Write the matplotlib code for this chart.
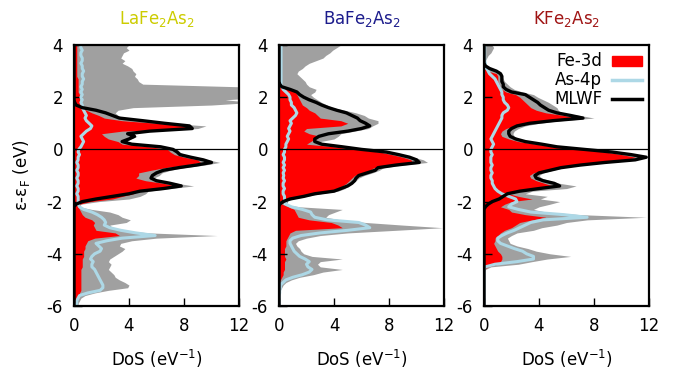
import numpy as np
import matplotlib.pyplot as plt
from matplotlib.patches import Patch
from matplotlib.lines import Line2D

plt.rcParams['font.family'] = ['DejaVu Sans']
plt.rcParams['axes.unicode_minus'] = False

# energy grid (eV), -6 .. 4 in 0.1 eV steps
energy = np.round(np.arange(-60, 41) * 0.1, 1)

compounds = ["LaFe$_2$As$_2$", "BaFe$_2$As$_2$", "KFe$_2$As$_2$"]
title_colors = ["#cccc00", "#1c1c8c", "#a01515"]

# ---- LaFe2As2 ----
la_total = [0.3, 0.3, 0.4, 0.5, 0.8, 1.5, 2.5, 3.9, 4.0, 3.7,
            3.3, 3.0, 2.9, 2.7, 2.5, 2.6, 2.7, 2.5, 2.6, 2.9,
            3.2, 3.5, 3.7, 3.3, 3.4, 4.2, 6.0, 10.4, 5.5, 3.4,
            2.8, 2.6, 3.8, 4.1, 3.5, 3.2, 2.6, 1.3, 0.4, 0.5,
            1.8, 4.0, 4.8, 5.2, 5.4, 7.0, 8.7, 7.5, 6.3, 5.8,
            6.2, 6.4, 7.0, 8.0, 9.5, 10.6, 9.8, 8.8, 8.0, 7.7,
            7.5, 6.5, 4.5, 3.8, 4.1, 4.6, 4.0, 5.8, 9.0, 9.6,
            7.0, 5.3, 3.6, 3.2, 3.0, 3.2, 4.3, 10.0, 13.0, 11.0,
            14.0, 14.0, 14.0, 14.0, 12.0, 5.0, 4.7, 4.6, 4.4, 4.5,
            4.3, 4.2, 3.9, 3.5, 3.7, 3.4, 3.5, 3.6, 4.0, 3.8,
            4.0]
la_fe3d = [0.0, 0.1, 0.2, 0.3, 0.4, 0.4, 0.5, 0.5, 0.5, 0.5,
           0.5, 0.5, 0.5, 0.5, 0.5, 0.6, 0.6, 0.6, 0.6, 0.7,
           0.7, 0.7, 0.8, 0.8, 0.9, 1.0, 1.5, 3.3, 3.0, 1.6,
           1.5, 1.4, 1.5, 1.3, 0.8, 0.6, 0.5, 0.4, 0.3, 0.4,
           1.2, 2.8, 3.5, 4.3, 4.6, 6.0, 7.4, 6.5, 5.2, 4.5,
           4.7, 4.7, 5.6, 6.6, 8.0, 9.2, 9.0, 8.0, 7.3, 7.0,
           6.8, 5.5, 3.5, 3.2, 2.5, 2.2, 2.0, 3.5, 8.0, 8.3,
           6.0, 3.5, 2.2, 1.8, 1.3, 0.9, 0.6, 0.5, 0.4, 0.4,
           0.4, 0.4, 0.3, 0.3, 0.3, 0.3, 0.3, 0.3, 0.2, 0.2,
           0.2, 0.2, 0.2, 0.2, 0.2, 0.2, 0.2, 0.2, 0.2, 0.2,
           0.2]
la_as4p = [0.1, 0.2, 0.2, 0.3, 0.4, 1.0, 1.9, 2.1, 2.1, 2.0,
           1.9, 1.8, 1.7, 1.6, 1.5, 1.3, 1.3, 1.4, 1.2, 1.3,
           1.5, 1.9, 2.0, 1.8, 1.6, 2.4, 3.5, 5.9, 4.5, 3.4,
           2.6, 2.2, 2.3, 2.2, 2.0, 1.7, 1.3, 0.7, 0.4, 0.3,
           0.3, 0.3, 0.3, 0.2, 0.3, 0.3, 0.2, 0.3, 0.3, 0.2,
           0.3, 0.3, 0.2, 0.3, 0.3, 0.2, 0.3, 0.3, 0.4, 0.3,
           0.35, 0.5, 0.6, 0.7, 0.6, 0.5, 0.7, 0.9, 1.2, 1.3,
           1.1, 0.9, 0.8, 0.9, 0.8, 0.7, 0.6, 0.6, 0.5, 0.6,
           0.5, 0.6, 0.5, 0.6, 0.5, 0.6, 0.6, 0.7, 0.6, 0.6,
           0.7, 0.6, 0.6, 0.5, 0.6, 0.6, 0.5, 0.5, 0.6, 0.5,
           0.5]
la_mlwf = [0, 0, 0, 0, 0, 0, 0, 0, 0, 0,
           0, 0, 0, 0, 0, 0, 0, 0, 0, 0,
           0, 0, 0, 0, 0, 0, 0, 0, 0, 0,
           0, 0, 0, 0, 0, 0, 0, 0, 0, 0.15,
           0.6, 1.6, 2.8, 4.0, 4.8, 6.5, 7.8, 7.0, 6.0, 5.6,
           5.7, 6.0, 6.5, 7.6, 8.9, 10.0, 9.4, 8.5, 7.7, 7.5,
           7.2, 6.3, 4.2, 3.5, 4.0, 4.4, 3.9, 5.5, 8.6, 8.4,
           6.6, 5.0, 3.3, 2.8, 2.3, 1.6, 0.6, 0.15, 0.05, 0,
           0, 0, 0, 0, 0, 0, 0, 0, 0, 0,
           0, 0, 0, 0, 0, 0, 0, 0, 0, 0,
           0]

# ---- BaFe2As2 ----
ba_total = [0, 0, 0, 0, 0, 0.05, 0.1, 0.2, 0.3, 0.5,
            0.9, 1.5, 2.5, 3.2, 4.6, 3.0, 2.8, 3.0, 4.6, 2.4,
            1.8, 1.6, 1.5, 1.3, 1.2, 1.4, 2.0, 3.0, 5.0, 8.5,
            11.9, 9.0, 6.3, 4.5, 3.4, 3.6, 4.1, 4.6, 1.5, 0.3,
            0.4, 1.0, 2.0, 3.0, 4.3, 4.8, 5.0, 5.3, 5.6, 5.8,
            6.2, 6.8, 7.3, 7.6, 9.0, 10.8, 10.5, 9.8, 9.0, 8.0,
            6.2, 4.8, 3.3, 3.0, 4.0, 4.3, 4.5, 5.5, 6.5, 6.8,
            7.2, 7.2, 6.5, 6.2, 5.6, 4.8, 3.9, 3.5, 3.1, 2.8,
            2.5, 2.3, 2.6, 2.7, 2.2, 2.0, 1.9, 1.7, 1.5, 1.3,
            1.4, 1.7, 1.9, 2.2, 2.7, 3.2, 3.4, 3.7, 3.9, 4.2,
            4.5]
ba_fe3d = [0, 0, 0, 0, 0, 0, 0, 0, 0, 0,
           0.1, 0.2, 0.3, 0.3, 0.4, 0.4, 0.4, 0.4, 0.5, 0.4,
           0.4, 0.4, 0.4, 0.5, 0.5, 0.5, 0.6, 0.7, 0.8, 1.2,
           4.6, 4.3, 3.8, 2.2, 1.4, 1.3, 1.2, 1.1, 0.7, 0.2,
           0.3, 0.8, 1.6, 2.4, 3.6, 4.2, 4.6, 4.9, 5.1, 5.3,
           5.5, 6.0, 6.6, 6.9, 8.2, 9.7, 9.6, 9.0, 8.2, 7.3,
           5.6, 4.0, 2.0, 2.3, 2.6, 3.0, 2.2, 1.8, 2.0, 4.5,
           5.0, 4.5, 3.0, 2.8, 2.6, 2.2, 2.0, 1.7, 1.6, 1.5,
           1.4, 1.3, 1.2, 0.8, 0.3, 0, 0, 0, 0, 0,
           0, 0, 0, 0, 0, 0, 0, 0, 0, 0,
           0]
ba_as4p = [0, 0, 0, 0, 0, 0.05, 0.05, 0.1, 0.1, 0.3,
           0.5, 1.0, 1.7, 2.2, 2.4, 2.1, 2.0, 2.2, 1.9, 1.5,
           1.3, 1.1, 1.0, 0.9, 0.8, 0.8, 1.0, 1.6, 3.0, 5.0,
           6.6, 6.3, 5.8, 3.5, 2.6, 2.4, 2.3, 1.7, 0.9, 0.5,
           0.5, 0.4, 0.4, 0.3, 0.3, 0.4, 0.3, 0.3, 0.4, 0.3,
           0.35, 0.3, 0.4, 0.3, 0.4, 0.3, 0.4, 0.4, 0.3, 0.4,
           0.4, 0.5, 0.5, 0.6, 0.7, 0.6, 0.7, 0.8, 0.7, 0.8,
           0.9, 0.8, 1.0, 1.2, 1.3, 1.2, 1.1, 0.9, 0.9, 0.8,
           0.8, 0.7, 0.5, 0.3, 0.2, 0.15, 0.15, 0.15, 0.15, 0.15,
           0.15, 0.15, 0.15, 0.15, 0.15, 0.15, 0.15, 0.15, 0.15, 0.15,
           0.15]
ba_mlwf = [0, 0, 0, 0, 0, 0, 0, 0, 0, 0,
           0, 0, 0, 0, 0, 0, 0, 0, 0, 0,
           0, 0, 0, 0, 0, 0, 0, 0, 0, 0,
           0, 0, 0, 0, 0, 0, 0, 0, 0, 0.05,
           0.3, 0.8, 1.8, 2.6, 4.0, 4.5, 5.0, 5.3, 5.5, 5.6,
           5.8, 6.4, 7.0, 7.2, 8.5, 10.2, 10.0, 9.5, 8.7, 7.8,
           6.0, 4.6, 3.1, 2.6, 2.6, 2.9, 3.6, 5.0, 6.0, 6.6,
           6.3, 5.9, 5.7, 5.3, 4.9, 4.2, 3.6, 3.1, 2.7, 2.2,
           1.8, 1.5, 1.3, 0.8, 0.2, 0.05, 0, 0, 0, 0,
           0, 0, 0, 0, 0, 0, 0, 0, 0, 0,
           0]

# ---- KFe2As2 ----
k_total = [0, 0, 0, 0, 0, 0, 0, 0, 0, 0,
           0, 0, 0, 0, 0.1, 0.5, 2.5, 3.5, 4.6, 6.3,
           4.8, 3.8, 3.2, 2.4, 1.9, 1.8, 1.7, 2.0, 2.4, 3.6,
           4.2, 5.3, 6.0, 7.5, 11.8, 7.0, 4.5, 3.6, 4.0, 4.8,
           5.5, 4.1, 4.6, 3.0, 3.5, 6.0, 6.7, 5.5, 4.8, 4.2,
           4.0, 4.3, 5.0, 5.8, 7.2, 9.0, 11.0, 11.9, 10.8, 9.4,
           7.5, 5.6, 4.5, 3.3, 2.6, 2.2, 2.1, 2.2, 2.5, 3.0,
           4.0, 5.6, 8.0, 7.0, 5.6, 5.4, 5.3, 5.0, 4.7, 4.3,
           3.9, 3.6, 2.8, 2.2, 1.9, 1.7, 1.5, 1.4, 1.3, 1.3,
           1.1, 0.5, 0.2, 0.1, 0.1, 0.2, 0.3, 0.5, 0.6, 0.7,
           0.6]
k_fe3d = [0, 0, 0, 0, 0, 0, 0, 0, 0, 0,
          0, 0, 0, 0, 0, 0.3, 1.0, 1.2, 1.3, 1.3,
          1.2, 1.0, 0.9, 0.8, 0.7, 0.8, 0.8, 1.0, 1.2, 1.5,
          2.0, 2.3, 2.6, 3.5, 4.5, 3.0, 2.0, 1.8, 1.2, 1.5,
          2.0, 3.5, 2.5, 1.8, 2.3, 4.0, 5.0, 4.4, 3.8, 3.4,
          3.3, 3.6, 4.3, 5.2, 6.6, 8.3, 10.3, 11.0, 10.0, 8.8,
          7.0, 5.0, 3.8, 2.5, 1.8, 1.3, 1.2, 1.3, 1.6, 2.2,
          3.2, 4.8, 6.8, 5.8, 4.5, 3.8, 3.4, 3.2, 3.0, 2.8,
          2.6, 2.3, 1.6, 1.3, 1.2, 1.1, 1.0, 1.0, 1.0, 0.9,
          0.3, 0, 0, 0, 0, 0, 0, 0, 0, 0,
          0]
k_as4p = [0, 0, 0, 0, 0, 0, 0, 0, 0, 0,
          0, 0, 0, 0, 0, 0.1, 0.8, 2.4, 3.6, 3.6,
          3.1, 2.8, 2.2, 1.7, 1.2, 1.0, 1.0, 1.3, 1.7, 2.2,
          2.6, 3.0, 3.4, 4.3, 7.5, 5.8, 3.4, 2.5, 1.8, 2.0,
          2.4, 2.3, 1.8, 1.3, 1.0, 0.8, 0.7, 0.6, 0.6, 0.5,
          0.5, 0.6, 0.5, 0.5, 0.6, 0.5, 0.5, 0.5, 0.6, 0.5,
          0.5, 0.6, 0.7, 0.6, 0.5, 0.6, 0.7, 0.8, 0.9, 1.0,
          1.1, 1.2, 1.3, 1.3, 1.4, 1.7, 1.8, 1.7, 1.5, 1.4,
          1.4, 1.3, 1.3, 1.2, 1.1, 1.0, 0.9, 0.8, 0.6, 0.4,
          0.3, 0.2, 0.1, 0.1, 0.05, 0.05, 0.05, 0.05, 0.05, 0.05,
          0.05]
k_mlwf = [0, 0, 0, 0, 0, 0, 0, 0, 0, 0,
          0, 0, 0, 0, 0, 0, 0, 0, 0, 0,
          0, 0, 0, 0, 0, 0, 0, 0, 0, 0,
          0, 0, 0, 0, 0, 0, 0, 0, 0.1, 0.3,
          0.6, 1.1, 1.4, 1.7, 2.6, 4.0, 5.5, 5.1, 4.3, 3.8,
          3.7, 4.0, 4.8, 5.6, 7.0, 8.8, 11.0, 11.8, 10.7, 9.3,
          7.3, 5.3, 4.2, 3.0, 2.3, 1.9, 1.8, 1.8, 2.0, 2.4,
          3.3, 5.0, 7.2, 6.3, 5.3, 4.7, 4.4, 4.1, 3.9, 3.6,
          3.3, 3.0, 2.0, 1.6, 1.4, 1.4, 1.3, 1.3, 1.3, 1.2,
          0.9, 0.4, 0.1, 0, 0, 0, 0, 0, 0, 0,
          0]

totals = [la_total, ba_total, k_total]
fe3d = [la_fe3d, ba_fe3d, k_fe3d]
as4p = [la_as4p, ba_as4p, k_as4p]
mlwf = [la_mlwf, ba_mlwf, k_mlwf]

xticks = [0, 4, 8, 12]
yticks = [-6, -4, -2, 0, 2, 4]

W, H = 688, 374
fig = plt.figure(figsize=(W / 100, H / 100), dpi=100)

lefts = [74, 279, 484]
for i in range(3):
    ax = fig.add_axes([lefts[i] / W, (H - 306) / H, 165 / W, 261 / H])
    ax.fill_betweenx(energy, 0, totals[i], color="#a0a0a0", lw=0)
    ax.fill_betweenx(energy, 0, fe3d[i], color="#ff0000", lw=0)
    ax.plot(as4p[i], energy, color="#add8e6", lw=2.2)
    ax.plot(mlwf[i], energy, color="black", lw=2.4)
    ax.axhline(0, color="black", lw=0.9)

    ax.set_xlim(0, 12)
    ax.set_ylim(-6, 4)
    ax.set_xticks(xticks)
    ax.set_yticks(yticks)
    ax.tick_params(direction="in", length=6, width=1, labelsize=12, pad=8)
    for s in ax.spines.values():
        s.set_linewidth(1.6)
    ax.set_xlabel("DoS (eV$^{-1}$)", fontsize=12, labelpad=9)
    ax.text(0.5, 1.10, compounds[i], transform=ax.transAxes, ha="center",
            va="center", fontsize=12, color=title_colors[i])

    if i == 2:
        handles = [Patch(color="#ff0000"),
                   Line2D([], [], color="#add8e6", lw=2.5),
                   Line2D([], [], color="black", lw=2.5)]
        ax.legend(handles, ["Fe-3d", "As-4p", "MLWF"], loc="upper right",
                  frameon=False, markerfirst=False, fontsize=12,
                  handlelength=1.75, handleheight=0.55, handletextpad=0.6,
                  labelspacing=0.05, borderpad=0.0, borderaxespad=0.45)

fig.text(22 / W, 1 - 175 / H, "ε-ε$_\\mathrm{F}$ (eV)", rotation=90,
         ha="center", va="center", fontsize=12)

plt.savefig("out.png", dpi=100)
